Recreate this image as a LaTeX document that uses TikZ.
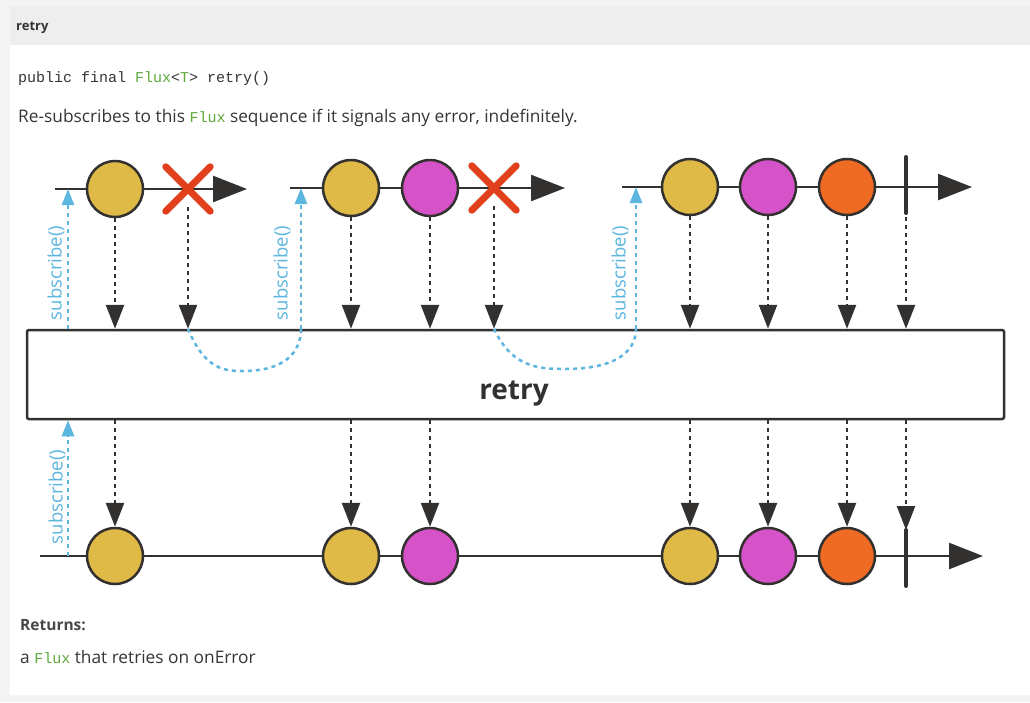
\documentclass[tikz,border=0pt]{standalone}
\usepackage{fontspec}
\setmainfont{Open Sans}
\setmonofont{Liberation Mono}
\newfontfamily\boxfont{Open Sans}
\usetikzlibrary{arrows.meta}
\definecolor{bggray}{HTML}{F4F4F4}
\definecolor{headgray}{HTML}{EEEEEE}
\definecolor{ink}{HTML}{333130}
\definecolor{txt}{HTML}{353535}
\definecolor{codegreen}{HTML}{5DA83A}
\definecolor{yel}{HTML}{E0BA46}
\definecolor{mag}{HTML}{D652C8}
\definecolor{org}{HTML}{EF6A23}
\definecolor{errred}{HTML}{E23F1D}
\definecolor{subblue}{HTML}{5CB6E0}
\tikzset{
  timeline/.style={ink, line width=2.5pt, -{Triangle[width=26pt,length=34pt]}},
  marble/.style={circle, draw=ink, line width=2.5pt, minimum size=56pt, inner sep=0pt},
  errcross/.style={minimum size=44pt, inner sep=0pt},
  crossline/.style={errred, line width=7pt, line cap=round},
  donebar/.style={ink, line width=4pt, line cap=round},
  flow/.style={ink, line width=2.5pt, dash pattern=on 4pt off 4pt, -{Triangle[width=18pt,length=24pt]}},
  subline/.style={subblue, line width=2.5pt, dash pattern=on 4pt off 4pt},
  subarrow/.style={subline, -{Triangle[width=12pt,length=16pt]}},
  sublabel/.style={subblue, rotate=90, font=\fontsize{18.5}{20}\selectfont, inner sep=0pt},
  opbox/.style={draw=ink, line width=2.5pt, rounded corners=2pt, minimum width=977pt, minimum height=89pt, inner sep=0pt},
  plain/.style={anchor=base west, inner sep=0pt, text=txt}
}
\newcommand{\codeg}[1]{{\ttfamily\fontsize{15}{18}\selectfont\color{codegreen}#1}}
\begin{document}
\begin{tikzpicture}[x=1pt,y=-1pt]
\useasboundingbox (0,0) rectangle (1030,702);
\fill[bggray] (0,0) rectangle (1030,702);
\fill[white] (10,6) rectangle (1030,695);
\fill[headgray] (10,6) rectangle (1030,45);

% texts
\node[plain, font=\bfseries\fontsize{13}{15}\selectfont] (head) at (16,30) {retry};
\node[plain, font=\ttfamily\fontsize{15}{18}\selectfont] (sig) at (18,82) {public final \codeg{Flux}<\codeg{T}> retry()};
\node[plain, font=\fontsize{17.3}{20}\selectfont] (desc) at (18,122) {Re-subscribes to this \codeg{Flux} sequence if it signals any error, indefinitely.};
\node[plain, font=\bfseries\fontsize{15.5}{18}\selectfont, text=black!72] (ret) at (20,630) {Returns:};
\node[plain, font=\fontsize{17.3}{20}\selectfont] (retd) at (20,663) {a \codeg{Flux} that retries on onError};

% operator box
\node[opbox] (box) at (515.5,374.5) {};
\node[font=\boxfont\bfseries\fontsize{28}{30}\selectfont, text=ink, inner sep=0pt, anchor=base] (boxlabel) at (514,399) {retry};

% top timelines
\coordinate (s1) at (55,189);  \coordinate (e1) at (247,189);
\coordinate (s2) at (290,188); \coordinate (e2) at (565,188);
\coordinate (s3) at (622,187); \coordinate (e3) at (972,187);
\draw[timeline] (s1) -- (e1);
\draw[timeline] (s2) -- (e2);
\draw[timeline] (s3) -- (e3);

% bottom timeline
\coordinate (sb) at (40,556); \coordinate (eb) at (983,556);
\draw[timeline] (sb) -- (eb);

% top marbles
\node[marble, fill=yel] (a1) at (115,189) {};
\node[errcross] (x1) at (188,189) {};
\node[marble, fill=yel] (a2) at (351,188) {};
\node[marble, fill=mag] (b2) at (430,188) {};
\node[errcross] (x2) at (494,188) {};
\node[marble, fill=yel] (a3) at (690,187) {};
\node[marble, fill=mag] (b3) at (768,187) {};
\node[marble, fill=org] (c3) at (847,187) {};
\coordinate (d3top) at (906,157); \coordinate (d3bot) at (906,213);
\draw[donebar] (d3top) -- (d3bot);
\foreach \x in {x1,x2}{
  \draw[crossline] (\x.north west) -- (\x.south east);
  \draw[crossline] (\x.south west) -- (\x.north east);
}

% bottom marbles
\node[marble, fill=yel] (ba1) at (115,556) {};
\node[marble, fill=yel] (ba2) at (351,556) {};
\node[marble, fill=mag] (bb2) at (430,556) {};
\node[marble, fill=yel] (ba3) at (690,556) {};
\node[marble, fill=mag] (bb3) at (768,556) {};
\node[marble, fill=org] (bc3) at (847,556) {};
\coordinate (bdtop) at (906,530); \coordinate (bdbot) at (906,586);
\draw[donebar] (bdtop) -- (bdbot);

% emissions into operator
\foreach \m in {a1,a2,b2,a3,b3,c3}{
  \draw[flow] (\m.south) -- (\m.south |- box.north);
}
\foreach \m in {x1,x2}{
  \draw[flow] ([yshift=4pt]\m.south) -- (\m.south |- box.north);
}
\draw[flow] ([yshift=4pt]d3bot) -- (d3bot |- box.north);

% emissions out of operator
\foreach \m in {ba1,ba2,bb2,ba3,bb3,bc3}{
  \draw[flow] (\m.north |- box.south) -- (\m.north);
}
\draw[flow] (bdtop |- box.south) -- (bdtop);

% subscriptions
\coordinate (u1) at (68,189);
\coordinate (u2) at (301,188);
\coordinate (u3) at (636,187);
\coordinate (ub) at (68,556);
\draw[subarrow] (u1 |- box.north) -- (u1);
\draw[subline] (x1.south |- box.north) .. controls (205,370) and (225,371) .. (243,371)
   .. controls (285,371) and (301,352) .. (u2 |- box.north);
\draw[subarrow] (u2 |- box.north) -- (u2);
\draw[subline] (x2.south |- box.north) .. controls (512,368) and (540,369) .. (565,369)
   .. controls (615,369) and (636,352) .. (u3 |- box.north);
\draw[subarrow] (u3 |- box.north) -- (u3);
\draw[subarrow] (ub) -- (ub |- box.south);

\node[sublabel] (l1) at (56,273) {subscribe()};
\node[sublabel] (l2) at (282,273) {subscribe()};
\node[sublabel] (l3) at (620,273) {subscribe()};
\node[sublabel] (lb) at (57,497) {subscribe()};
\end{tikzpicture}
\end{document}
